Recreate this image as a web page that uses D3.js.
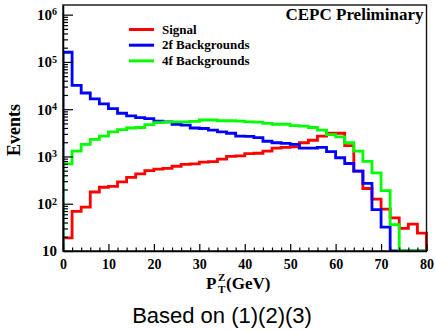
<!DOCTYPE html>
<html>
<head>
<meta charset="utf-8">
<script src="https://cdn.jsdelivr.net/npm/d3@7"></script>
<style>
  body { margin: 0; background: #fff; }
  svg { display: block; }
  .root-font { font-family: 'Liberation Serif', 'Times New Roman', serif; font-weight: bold; fill: #000; }
</style>
</head>
<body>
<div id="chart"></div>
<script>
// bin contents, 2 GeV bins from 0 to 80 GeV
const binWidth = 2;
const signal = [19, 69, 85, 177, 223, 234, 290, 360, 430, 500,
  540, 560, 620, 680, 700, 760, 780, 880, 1000, 1030,
  1150, 1170, 1300, 1500, 1550, 1600, 1950, 2200, 2700, 3100,
  3100, 1700, 490, 210, 125, 77, 50, 30, 37, 24];
const bkg2f = [160000, 32000, 22000, 16500, 13000, 10300, 8200, 7200, 6600, 6300,
  5600, 5400, 4800, 4600, 4000, 3900, 3600, 3300, 3100, 2700,
  2650, 2500, 2100, 1950, 1900, 1800, 1500, 1500, 1550, 1260,
  940, 710, 490, 270, 75, 32, 0, 0, 0, 0];
const bkg4f = [700, 1300, 1800, 2300, 2700, 3300, 3700, 4000, 4100, 4700,
  5200, 5300, 5400, 5400, 5500, 5900, 5900, 5700, 5700, 5600,
  5400, 5300, 5000, 4800, 4800, 4500, 4400, 4100, 3600, 2900,
  2600, 1950, 1300, 790, 450, 190, 36, 0, 0, 0];

const xMajor = [0, 10, 20, 30, 40, 50, 60, 70, 80];
const yMajor = [10, 100, 1000, 10000, 100000, 1000000];
const legendLabels = ['Signal', '2f Backgrounds', '4f Backgrounds'];
const legendColors = ['#ff0000', '#0000ff', '#00ff00'];

const W = 435, H = 331;
const frame = { left: 63, right: 426.5, top: 5, bottom: 251 };
const yMin = 10, yMax = 1.6e6;

const svg = d3.select('#chart')
  .append('svg')
  .attr('width', W)
  .attr('height', H);

const x = d3.scaleLinear().domain([0, 80]).range([frame.left, frame.right]);
const y = d3.scaleLog().domain([yMin, yMax]).range([frame.bottom, frame.top]);

svg.append('clipPath').attr('id', 'clip')
  .append('rect')
  .attr('x', frame.left).attr('y', frame.top - 2)
  .attr('width', frame.right - frame.left + 2)
  .attr('height', frame.bottom - frame.top + 2);

// histogram outline, ROOT style
function stepPath(values) {
  const pts = [[x(0), y(yMin)]];
  values.forEach((v, i) => {
    const yy = y(Math.max(v, yMin));
    pts.push([x(i * binWidth), yy], [x((i + 1) * binWidth), yy]);
  });
  pts.push([x(values.length * binWidth), y(yMin)]);
  return d3.line()(pts);
}

const hists = svg.append('g').attr('clip-path', 'url(#clip)');
[[signal, legendColors[0]], [bkg2f, legendColors[1]], [bkg4f, legendColors[2]]].forEach(([vals, col]) => {
  hists.append('path')
    .attr('d', stepPath(vals))
    .attr('fill', 'none')
    .attr('stroke', col)
    .attr('stroke-width', 2.8)
    .attr('stroke-linejoin', 'miter');
});

// frame
svg.append('rect')
  .attr('x', frame.left).attr('y', frame.top)
  .attr('width', frame.right - frame.left)
  .attr('height', frame.bottom - frame.top)
  .attr('fill', 'none')
  .attr('stroke', '#111')
  .attr('stroke-width', 1.4);

// x axis: major + minor ticks pointing inward
const xMinor = d3.range(0, 81, binWidth).filter(d => d % 10 !== 0);
svg.append('g')
  .attr('transform', `translate(0,${frame.bottom})`)
  .call(d3.axisBottom(x).tickValues(xMinor).tickSize(-3.5).tickFormat(''))
  .call(g => g.select('.domain').remove())
  .call(g => g.selectAll('line').attr('stroke', '#000').attr('stroke-width', 1.2));

svg.append('g')
  .attr('class', 'root-font')
  .attr('transform', `translate(0,${frame.bottom})`)
  .call(d3.axisBottom(x).tickValues(xMajor).tickSizeInner(-7).tickSizeOuter(0).tickPadding(8).tickFormat(d3.format('d')))
  .call(g => g.select('.domain').attr('stroke', '#000').attr('stroke-width', 1.5))
  .call(g => g.selectAll('line').attr('stroke', '#000').attr('stroke-width', 1.2))
  .call(g => g.selectAll('text')
    .attr('class', 'root-font')
    .style('font-size', '14px'));

// y axis: log ticks
const yMinor = [];
yMajor.forEach(p => d3.range(2, 10).forEach(k => { if (p * k < yMax) yMinor.push(p * k); }));
svg.append('g')
  .attr('transform', `translate(${frame.left},0)`)
  .call(d3.axisLeft(y).tickValues(yMinor).tickSize(-5).tickFormat(''))
  .call(g => g.select('.domain').remove())
  .call(g => g.selectAll('line').attr('stroke', '#000').attr('stroke-width', 1.2));

const yAx = svg.append('g')
  .attr('transform', `translate(${frame.left},0)`)
  .call(d3.axisLeft(y).tickValues(yMajor).tickSizeInner(-10).tickSizeOuter(0).tickPadding(6).tickFormat(''))
  .call(g => g.select('.domain').attr('stroke', '#000').attr('stroke-width', 1.5))
  .call(g => g.selectAll('line').attr('stroke', '#000').attr('stroke-width', 1.2));

yAx.selectAll('.tick text').each(function(d) {
  const t = d3.select(this)
    .attr('class', 'root-font')
    .style('font-size', '15px')
    .attr('fill', '#000');
  const e = Math.round(Math.log10(d));
  t.append('tspan').text('10');
  if (e !== 1) {
    t.append('tspan').text(e).attr('dy', '-0.45em').style('font-size', '10px');
  }
});

// axis titles
svg.append('text')
  .attr('class', 'root-font')
  .attr('transform', `translate(20,${(frame.top + frame.bottom) / 2 + 2}) rotate(-90)`)
  .attr('text-anchor', 'middle')
  .style('font-size', '18px')
  .text('Events');

const xt = svg.append('g').attr('class', 'root-font').attr('transform', 'translate(206,289)');
xt.append('text').attr('class', 'root-font').style('font-size', '17px').text('P');
xt.append('text').attr('class', 'root-font').attr('x', 12).attr('y', -8).style('font-size', '11px').text('Z');
xt.append('text').attr('class', 'root-font').attr('x', 12).attr('y', 4).style('font-size', '11px').text('T');
xt.append('text').attr('class', 'root-font').attr('x', 20).style('font-size', '17px').text('(GeV)');

// label
svg.append('text')
  .attr('class', 'root-font')
  .attr('x', frame.right - 3)
  .attr('y', 20)
  .attr('text-anchor', 'end')
  .style('font-size', '17px')
  .text('CEPC Preliminary');

// legend
const legend = svg.selectAll('.legend')
  .data(legendLabels)
  .enter()
  .append('g')
  .attr('class', 'legend')
  .attr('transform', (d, i) => `translate(129,${29.5 + i * 15.7})`);

legend.append('line')
  .attr('x1', 0).attr('x2', 25)
  .attr('stroke', (d, i) => legendColors[i])
  .attr('stroke-width', 3);

legend.append('text')
  .attr('class', 'root-font')
  .attr('x', 33)
  .attr('dy', '0.33em')
  .style('font-size', '13px')
  .text(d => d);

// caption
svg.append('text')
  .attr('x', 222)
  .attr('y', 323)
  .attr('text-anchor', 'middle')
  .style('font-family', "'Liberation Sans', Arial, sans-serif")
  .style('font-size', '22px')
  .attr('fill', '#000')
  .text('Based on (1)(2)(3)');
</script>
</body>
</html>
